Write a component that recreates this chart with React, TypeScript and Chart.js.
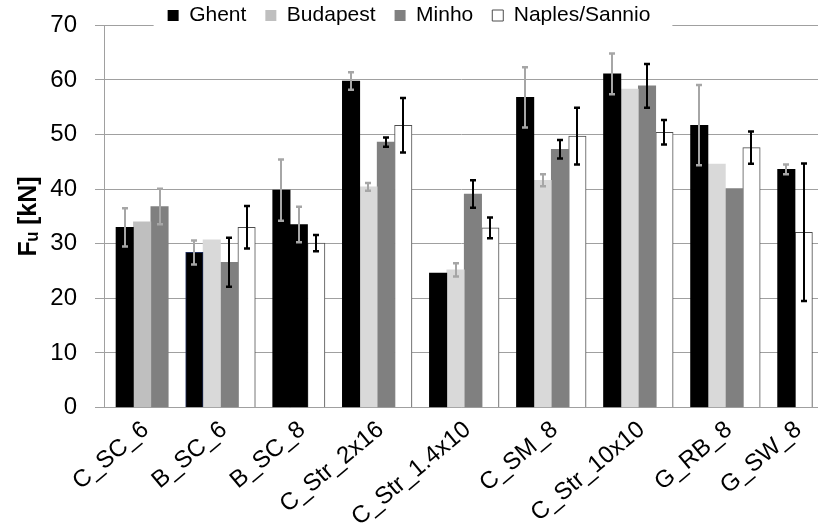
import { useEffect, useRef } from 'react';
import { Chart, registerables } from 'chart.js';

Chart.register(...registerables);

// ---------- data ----------
const categories = ['C_SC_6', 'B_SC_6', 'B_SC_8', 'C_Str_2x16', 'C_Str_1.4x10', 'C_SM_8', 'C_Str_10x10', 'G_RB_8', 'G_SW_8'];
const seriesLabels = ['Ghent', 'Budapest', 'Minho', 'Naples/Sannio'];

const ghent = [33.0, 28.4, 39.8, 59.8, 24.6, 56.8, 61.1, 51.7, 43.6];
const ghentErr = [3.5, 2.2, 5.6, 1.6, null, 5.5, 3.75, 7.35, 0.9];
// second Ghent specimen set (only reported for B_SC_8)
const ghentB = [null, null, 33.5, null, null, null, null, null, null];
const ghentBErr = [null, null, 3.25, null, null, null, null, null, null];
const budapest = [34.0, 30.7, null, 40.4, 25.2, 41.6, 58.3, 44.6, null];
const budapestErr = [null, null, null, 0.7, 1.2, 1.1, null, null, null];
const minho = [36.8, 26.6, null, 48.6, 39.1, 47.3, 58.9, 40.1, null];
const minhoErr = [3.25, 4.5, null, 0.85, 2.5, 1.7, 4.0, null, null];
const naples = [null, 33.0, 30.1, 51.7, 32.9, 49.7, 50.4, 47.6, 32.1];
const naplesErr = [null, 3.9, 1.5, 5.0, 1.9, 5.2, 2.25, 2.95, 12.6];

const yTicks = [0, 10, 20, 30, 40, 50, 60, 70];

// ---------- styles ----------
const FONT = "'Liberation Sans', Arial, 'DejaVu Sans', sans-serif";
const GRID = '#a0a0a0';
const ERR_GRAY = '#a6a6a6';
const ERR_BLACK = '#000000';
const LABEL_SHIFT = 0.2; // slot units, nudges the rotated category labels

type Pt = { x: number; y: number; err: number | null; cat: number; errColor: string };

type SeriesDef = {
  label: string;
  values: (number | null)[];
  errors: (number | null)[];
  errColor: string;
  legend: boolean;
  fill: (cat: number) => string;
  legendFill: string;
  border: (cat: number) => string;
  borderWidth: (cat: number) => number;
};

const seriesDefs: SeriesDef[] = [
  {
    label: seriesLabels[0], values: ghent, errors: ghentErr, errColor: ERR_GRAY, legend: true,
    fill: () => '#000000', legendFill: '#000000',
    border: (c) => (c === 1 ? '#1f2d5c' : '#000000'), borderWidth: (c) => (c === 1 ? 1 : 0),
  },
  {
    label: seriesLabels[0] + ' (2)', values: ghentB, errors: ghentBErr, errColor: ERR_GRAY, legend: false,
    fill: () => '#000000', legendFill: '#000000',
    border: () => '#000000', borderWidth: () => 0,
  },
  {
    label: seriesLabels[1], values: budapest, errors: budapestErr, errColor: ERR_GRAY, legend: true,
    fill: (c) => (c === 0 ? '#bfbfbf' : '#d9d9d9'), legendFill: '#bfbfbf',
    border: () => '#d9d9d9', borderWidth: () => 0,
  },
  {
    label: seriesLabels[2], values: minho, errors: minhoErr, errColor: ERR_BLACK, legend: true,
    fill: () => '#808080', legendFill: '#808080',
    border: () => '#808080', borderWidth: () => 0,
  },
  {
    label: seriesLabels[3], values: naples, errors: naplesErr, errColor: ERR_BLACK, legend: true,
    fill: () => '#ffffff', legendFill: '#ffffff',
    border: () => '#4d4d4d', borderWidth: () => 1,
  },
];

// Each present bar gets its own slot, one empty slot separates categories.
function buildLayout() {
  const points: Pt[][] = seriesDefs.map(() => []);
  const tickCenters: number[] = [];
  let slot = 0;
  categories.forEach((_, ci) => {
    const first = slot;
    seriesDefs.forEach((s, si) => {
      const v = s.values[ci];
      if (v == null) return;
      points[si].push({
        x: slot + 0.5,
        y: v,
        err: s.errors[ci],
        cat: ci,
        errColor: ci === 0 ? ERR_GRAY : s.errColor,
      });
      slot++;
    });
    tickCenters.push((first + slot) / 2 + LABEL_SHIFT);
    slot++;
  });
  return { points, tickCenters };
}

const errorBarPlugin = {
  id: 'errorBars',
  afterDatasetsDraw(chart: any) {
    const ctx = chart.ctx as CanvasRenderingContext2D;
    const yScale = chart.scales.y;
    chart.data.datasets.forEach((ds: any, di: number) => {
      const meta = chart.getDatasetMeta(di);
      if (meta.hidden) return;
      meta.data.forEach((bar: any, i: number) => {
        const p = ds.data[i] as Pt;
        if (p.err == null) return;
        const x = Math.round(bar.x);
        const top = yScale.getPixelForValue(p.y + p.err);
        const bot = yScale.getPixelForValue(p.y - p.err);
        ctx.save();
        ctx.strokeStyle = p.errColor;
        ctx.lineWidth = 2;
        ctx.beginPath();
        ctx.moveTo(x, top);
        ctx.lineTo(x, bot);
        ctx.stroke();
        ctx.lineWidth = 2.5;
        ctx.beginPath();
        ctx.moveTo(x - 3, top);
        ctx.lineTo(x + 3, top);
        ctx.moveTo(x - 3, bot);
        ctx.lineTo(x + 3, bot);
        ctx.stroke();
        ctx.restore();
      });
    });
    // legend sits on a white box that hides the top gridline behind it
    const lg = chart.legend;
    if (lg && lg.legendHitBoxes && lg.legendHitBoxes.length) {
      const hb = lg.legendHitBoxes;
      const first = hb[0];
      const last = hb[hb.length - 1];
      ctx.save();
      ctx.fillStyle = '#ffffff';
      ctx.fillRect(first.left - 14, 0, last.left + last.width + 22 - (first.left - 14), 30);
      ctx.restore();
      lg.draw();
    }
  },
};

const legendHeightPlugin = {
  id: 'legendHeight',
  beforeLayout(chart: any) {
    const lg = chart.legend;
    if (lg && !lg._patched) {
      const orig = lg.fit;
      lg.fit = function () {
        orig.call(this);
        this.height = 25.3;
      };
      lg._patched = true;
    }
  },
  afterLayout(chart: any) {
    const lg = chart.legend;
    if (lg) {
      lg.top = -14;
      lg.bottom = 31;
      lg.height = 45;
    }
  },
};

export default function App() {
  const ref = useRef<HTMLCanvasElement>(null);

  useEffect(() => {
    const { points, tickCenters } = buildLayout();
    const datasets = seriesDefs.map((s, si) => ({
      label: s.label,
      showInLegend: s.legend,
      data: points[si],
      backgroundColor: (c: any) => (c.type === 'data' ? s.fill(c.raw.cat) : s.legendFill),
      borderColor: (c: any) => (c.type === 'data' ? s.border(c.raw.cat) : s.border(-1)),
      borderWidth: (c: any) => (c.type === 'data' ? s.borderWidth(c.raw.cat) : s.borderWidth(-1)),
      grouped: false,
      barPercentage: 1,
      categoryPercentage: 1,
    }));

    const chart = new Chart(ref.current as HTMLCanvasElement, {
      type: 'bar',
      data: { datasets: datasets as any },
      options: {
        responsive: false,
        animation: false,
        devicePixelRatio: 1,
        layout: { padding: 0, autoPadding: false },
        plugins: {
          tooltip: { enabled: false },
          legend: {
            position: 'top',
            align: 'center',
            labels: {
              boxWidth: 11,
              boxHeight: 11,
              padding: 19,
              color: '#000000',
              font: { family: FONT, size: 21 },
              filter: (item: any, data: any) => data.datasets[item.datasetIndex].showInLegend !== false,
            },
          },
        },
        scales: {
          x: {
            type: 'linear',
            bounds: 'data',
            offset: false,
            min: -0.69,
            max: 40.32,
            grid: { display: false, drawTicks: false, offset: false },
            border: { display: true, color: GRID, width: 1 },
            afterBuildTicks: (scale: any) => {
              scale.ticks = tickCenters.map((v) => ({ value: v }));
            },
            afterFit: (scale: any) => {
              scale.height = 116.5;
              scale.paddingLeft = 0;
              scale.paddingRight = 0;
            },
            ticks: {
              autoSkip: false,
              minRotation: 40,
              maxRotation: 40,
              padding: 8,
              color: '#000000',
              font: { family: FONT, size: 24 },
              callback: (_v: any, i: number) => categories[i],
            },
          },
          y: {
            min: 0,
            max: 70,
            afterBuildTicks: (scale: any) => {
              scale.ticks = yTicks.map((v) => ({ value: v }));
            },
            afterFit: (scale: any) => {
              scale.width = 104;
              scale.paddingTop = 0;
              scale.paddingBottom = 0;
            },
            grid: { color: GRID, lineWidth: 1, tickLength: 9, drawTicks: true },
            border: { display: true, color: GRID, width: 1 },
            ticks: {
              padding: 18,
              color: '#000000',
              font: { family: FONT, size: 24 },
            },
            title: {
              display: true,
              text: 'Fᵤ [kN]',
              color: '#000000',
              font: { family: FONT, size: 25, weight: 'bold' },
              padding: { top: 14, bottom: 0 },
            },
          },
        },
      } as any,
      plugins: [legendHeightPlugin, errorBarPlugin],
    });
    return () => chart.destroy();
  }, []);

  return (
    <div style={{ position: 'absolute', left: 0, top: 0, width: 818, height: 524, background: '#ffffff' }}>
      <canvas ref={ref} width={818} height={524} style={{ display: 'block' }} />
    </div>
  );
}
